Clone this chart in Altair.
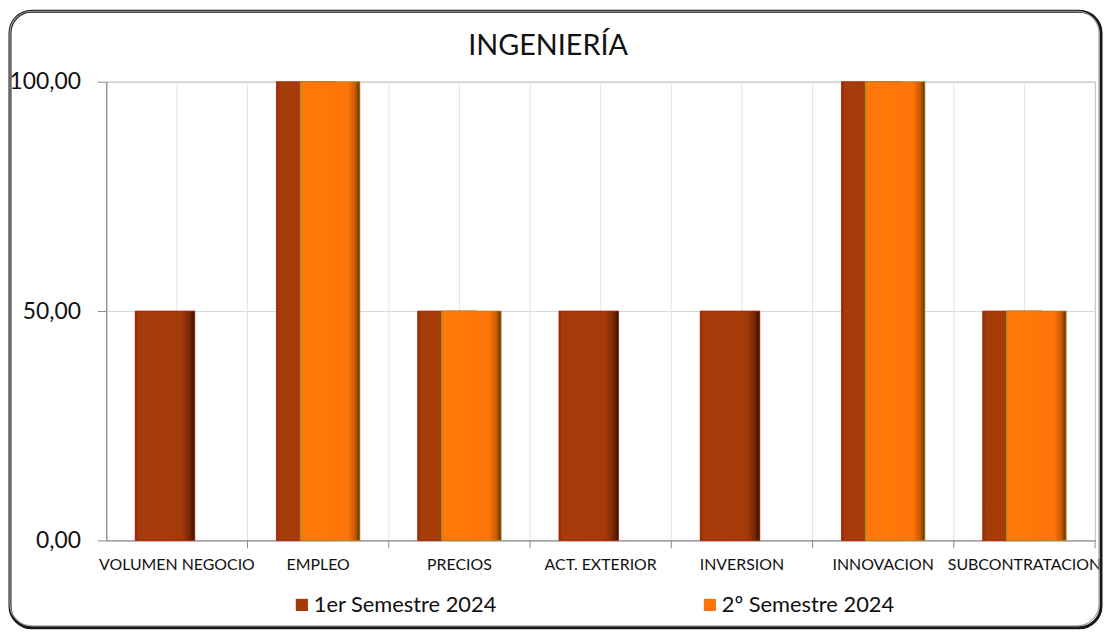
import altair as alt
import pandas as pd

categories = ["VOLUMEN NEGOCIO", "EMPLEO", "PRECIOS", "ACT. EXTERIOR",
              "INVERSION", "INNOVACION", "SUBCONTRATACION"]
serie1 = [50, 100, 50, 50, 50, 100, 50]
serie2 = [0, 100, 50, 0, 0, 100, 50]
series_names = ["1er Semestre 2024", "2º Semestre 2024"]
y_ticks = [0, 50, 100]
title_text = "INGENIERÍA"

W, H = 996, 462
FONT = "Lato"

df = pd.concat([
    pd.DataFrame({"cat": categories, "value": serie1, "serie": series_names[0]}),
    pd.DataFrame({"cat": categories, "value": serie2, "serie": series_names[1]}),
], ignore_index=True)

xscale = alt.Scale(domain=categories, paddingInner=0, paddingOuter=0)
yscale = alt.Scale(domain=[0, 100], nice=False)

x_axis = alt.Axis(labelAngle=0, labelAlign="center",
                  labelBaseline="top", grid=False, ticks=False,
                  domainColor="#8a8a8a", labelFont=FONT,
                  labelFontSize=16, labelColor="#111111",
                  labelPadding=16, labelLimit=300)


def xe(bp=None):
    if bp is None:
        return alt.X("cat:N", scale=xscale, sort=categories, title=None, axis=x_axis)
    return alt.X("cat:N", scale=xscale, sort=categories, title=None,
                 axis=x_axis, bandPosition=bp)


y_enc = alt.Y("value:Q", scale=yscale, title=None,
              axis=alt.Axis(values=y_ticks,
                            labelExpr="replace(format(datum.value, '.2f'), '.', ',')",
                            grid=True, gridColor="#d6d6d6", tickSize=9,
                            tickColor="#8a8a8a", domainColor="#8a8a8a",
                            labelFont=FONT, labelFontSize=23,
                            labelColor="#111111", labelPadding=17))
color_enc = alt.Color("serie:N",
                      scale=alt.Scale(domain=series_names,
                                      range=["#A33A08", "#FF7408"]),
                      legend=alt.Legend(title=None, orient="none",
                                        legendX=186, legendY=516,
                                        direction="horizontal",
                                        columnPadding=203,
                                        symbolType="square", symbolSize=150,
                                        symbolStrokeWidth=1,
                                        labelFont=FONT, labelFontSize=22,
                                        labelLimit=400,
                                        labelColor="#111111", labelOffset=1))

base = alt.Chart(df)

grad1 = alt.Gradient(gradient="linear", x1=0, x2=1, y1=0, y2=0, stops=[
    alt.GradientStop(color="#8e2a06", offset=0),
    alt.GradientStop(color="#a63c0a", offset=0.06),
    alt.GradientStop(color="#a33a08", offset=0.78),
    alt.GradientStop(color="#7c2a05", offset=0.9),
    alt.GradientStop(color="#3a1402", offset=1),
])
grad2 = alt.Gradient(gradient="linear", x1=0, x2=1, y1=0, y2=0, stops=[
    alt.GradientStop(color="#c88a10", offset=0),
    alt.GradientStop(color="#ff780a", offset=0.05),
    alt.GradientStop(color="#ff7408", offset=0.8),
    alt.GradientStop(color="#c85a05", offset=0.92),
    alt.GradientStop(color="#5e3206", offset=1),
])

f1 = f"datum.serie == '{series_names[0]}' && datum.value > 0"
f2 = f"datum.serie == '{series_names[1]}' && datum.value > 0"

bar1 = base.transform_filter(f1).mark_bar(width=60, xOffset=-12).encode(
    x=xe(), y=y_enc, color=color_enc)
bar1g = base.transform_filter(f1).mark_bar(
    width=60, xOffset=-12, fill=grad1, stroke="#b3240c", strokeWidth=0.8).encode(
    x=xe(), y=y_enc)
bar2 = base.transform_filter(f2).mark_bar(width=60, xOffset=12).encode(
    x=xe(), y=y_enc, color=color_enc)
bar2g = base.transform_filter(f2).mark_bar(
    width=60, xOffset=12, fill=grad2, stroke="#b08a20", strokeWidth=0.8).encode(
    x=xe(), y=y_enc)

catdf = pd.DataFrame({"cat": categories})
centers = alt.Chart(catdf).mark_rule(color="#e4e4e4", strokeWidth=1).encode(
    x=xe(0.5))
bounds = alt.Chart(catdf).mark_rule(color="#e4e4e4", strokeWidth=1).encode(
    x=xe(1))
xticks = alt.Chart(catdf).mark_rule(color="#8a8a8a", strokeWidth=1).encode(
    x=xe(1), y=alt.value(H), y2=alt.value(H + 8))

dummy = pd.DataFrame({"a": [0]})
shadow = alt.Chart(dummy).mark_rect(
    fillOpacity=0, stroke="#1a1a1a", strokeWidth=3, cornerRadius=22).encode(
    x=alt.value(-97), x2=alt.value(1002), y=alt.value(-71), y2=alt.value(550))
border = alt.Chart(dummy).mark_rect(
    fillOpacity=0, stroke="#a0a0a0", strokeWidth=1.2, cornerRadius=22).encode(
    x=alt.value(-97), x2=alt.value(1000), y=alt.value(-71), y2=alt.value(548))
title = alt.Chart(dummy).mark_text(
    text=title_text, font=FONT, fontSize=29, color="#111111",
    align="center", baseline="middle").encode(
    x=alt.value(445), y=alt.value(-36))

chart = alt.layer(shadow, border, centers, bounds, xticks,
                  bar1, bar1g, bar2, bar2g, title).properties(
    width=W, height=H,
    autosize=alt.AutoSizeParams(type="none"),
    padding={"left": 99, "top": 72, "right": 9, "bottom": 90},
    background="white",
).configure_view(stroke="#a0a0a0", strokeWidth=1)

chart.save("out.html", embed_options={"renderer": "svg", "actions": False})
